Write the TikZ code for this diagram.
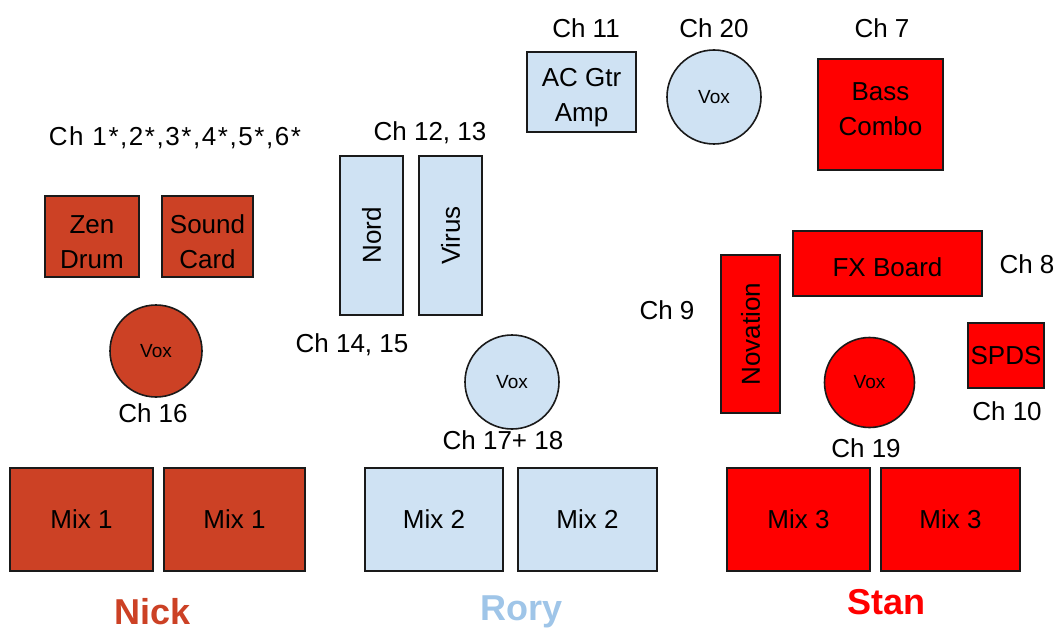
\documentclass[tikz,border=0pt]{standalone}
\usepackage{fontspec}
\setmainfont{Liberation Sans}
\newfontfamily\widesans[LetterSpace=6]{Liberation Sans}
\definecolor{nickc}{HTML}{CC4125}
\definecolor{roryc}{HTML}{CFE2F3}
\definecolor{roryt}{HTML}{9FC5E8}
\definecolor{stanc}{HTML}{FF0000}
\definecolor{edge}{HTML}{1A1A1A}
\tikzset{
  box/.style={draw=edge, line width=1.6pt, rectangle, inner sep=0pt, align=center,
    font=\fontsize{26}{35}\selectfont, text=black},
  nickbox/.style={box, fill=nickc},
  rorybox/.style={box, fill=roryc},
  stanbox/.style={box, fill=stanc},
  voxc/.style={draw=edge, line width=1.6pt, circle, inner sep=0pt, minimum size=#1,
    font=\fontsize{19}{21}\selectfont, text=black},
  chl/.style={inner sep=0pt, font=\fontsize{26}{28}\selectfont, text=black},
  who/.style={inner sep=0pt, font=\fontsize{36}{38}\selectfont\bfseries}
}
\begin{document}
\begin{tikzpicture}[x=1pt,y=-1pt]
\useasboundingbox (0,0) rectangle (1060,631);
% Nick
\node[chl, font=\widesans\fontsize{26}{28}\selectfont] (ch1) at (175,138) {Ch 1*,2*,3*,4*,5*,6*};
\node[nickbox, minimum width=94pt, minimum height=81pt] (zen) at (92,236.5) {};
\node[chl, align=center, font=\fontsize{26}{35}\selectfont] (zent) at (92,242) {Zen\\Drum};
\node[nickbox, minimum width=91pt, minimum height=81pt] (sound) at (207.5,236.5) {};
\node[chl, align=center, font=\fontsize{26}{35}\selectfont] (soundt) at (207.5,242) {Sound\\Card};
\node[voxc=92pt, fill=nickc] (voxn) at (156,351) {Vox};
\node[chl] (ch16) at (153,413) {Ch 16};
\node[nickbox, minimum width=143pt, minimum height=103pt] (mix1a) at (81.5,519.5) {Mix 1};
\node[nickbox, minimum width=141pt, minimum height=103pt] (mix1b) at (234.5,519.5) {Mix 1};
\node[who, text=nickc] (nick) at (153,612) {Nick};
% Rory
\node[chl] (ch11) at (586,28) {Ch 11};
\node[rorybox, minimum width=109pt, minimum height=80pt] (acgtr) at (581.5,92) {};
\node[chl, align=center, font=\fontsize{26}{35}\selectfont] (acgtrt) at (581.5,98) {AC Gtr\\Amp};
\node[chl] (ch20) at (714,28) {Ch 20};
\node[voxc=94pt, fill=roryc] (vox20) at (714,97) {Vox};
\node[chl] (ch1213) at (430,133) {Ch 12, 13};
\node[rorybox, minimum width=63pt, minimum height=159pt] (nord) at (371.5,235.5) {};
\node[chl, rotate=90] (nordt) at (nord.center) {Nord};
\node[rorybox, minimum width=63pt, minimum height=159pt] (virus) at (450.5,235.5) {};
\node[chl, rotate=90] (virust) at (virus.center) {Virus};
\node[chl] (ch1415) at (352,345) {Ch 14, 15};
\node[voxc=94pt, fill=roryc] (voxr) at (512,382) {Vox};
\node[chl] (ch1718) at (503,440) {Ch 17+ 18};
\node[rorybox, minimum width=138pt, minimum height=103pt] (mix2a) at (434,519.5) {Mix 2};
\node[rorybox, minimum width=139pt, minimum height=103pt] (mix2b) at (587.5,519.5) {Mix 2};
\node[who, text=roryt] (rory) at (522,612) {Rory};
% Stan
\node[chl] (ch7) at (882,28) {Ch 7};
\node[stanbox, minimum width=125pt, minimum height=111pt] (bass) at (880.5,114.5) {};
\node[chl, align=center, font=\fontsize{26}{35}\selectfont] (basst) at (880.5,109.5) {Bass\\Combo};
\node[stanbox, minimum width=189pt, minimum height=65pt] (fx) at (887.5,263.5) {};
\node[chl] (fxt) at (887.5,267) {FX Board};
\node[chl] (ch8) at (1027,264) {Ch 8};
\node[stanbox, minimum width=59pt, minimum height=158pt] (nov) at (750.5,334) {};
\node[chl, rotate=90] (novt) at (nov.center) {Novation};
\node[chl] (ch9) at (667,310) {Ch 9};
\node[voxc=90pt, fill=stanc] (voxs) at (869.5,382.5) {Vox};
\node[stanbox, minimum width=76pt, minimum height=65pt] (spds) at (1006,355.5) {SPDS};
\node[chl] (ch10) at (1007,411) {Ch 10};
\node[chl] (ch19) at (866,448) {Ch 19};
\node[stanbox, minimum width=143pt, minimum height=103pt] (mix3a) at (798.5,519.5) {Mix 3};
\node[stanbox, minimum width=139pt, minimum height=103pt] (mix3b) at (950.5,519.5) {Mix 3};
\node[who, text=stanc] (stan) at (886,602) {Stan};
\end{tikzpicture}
\end{document}
